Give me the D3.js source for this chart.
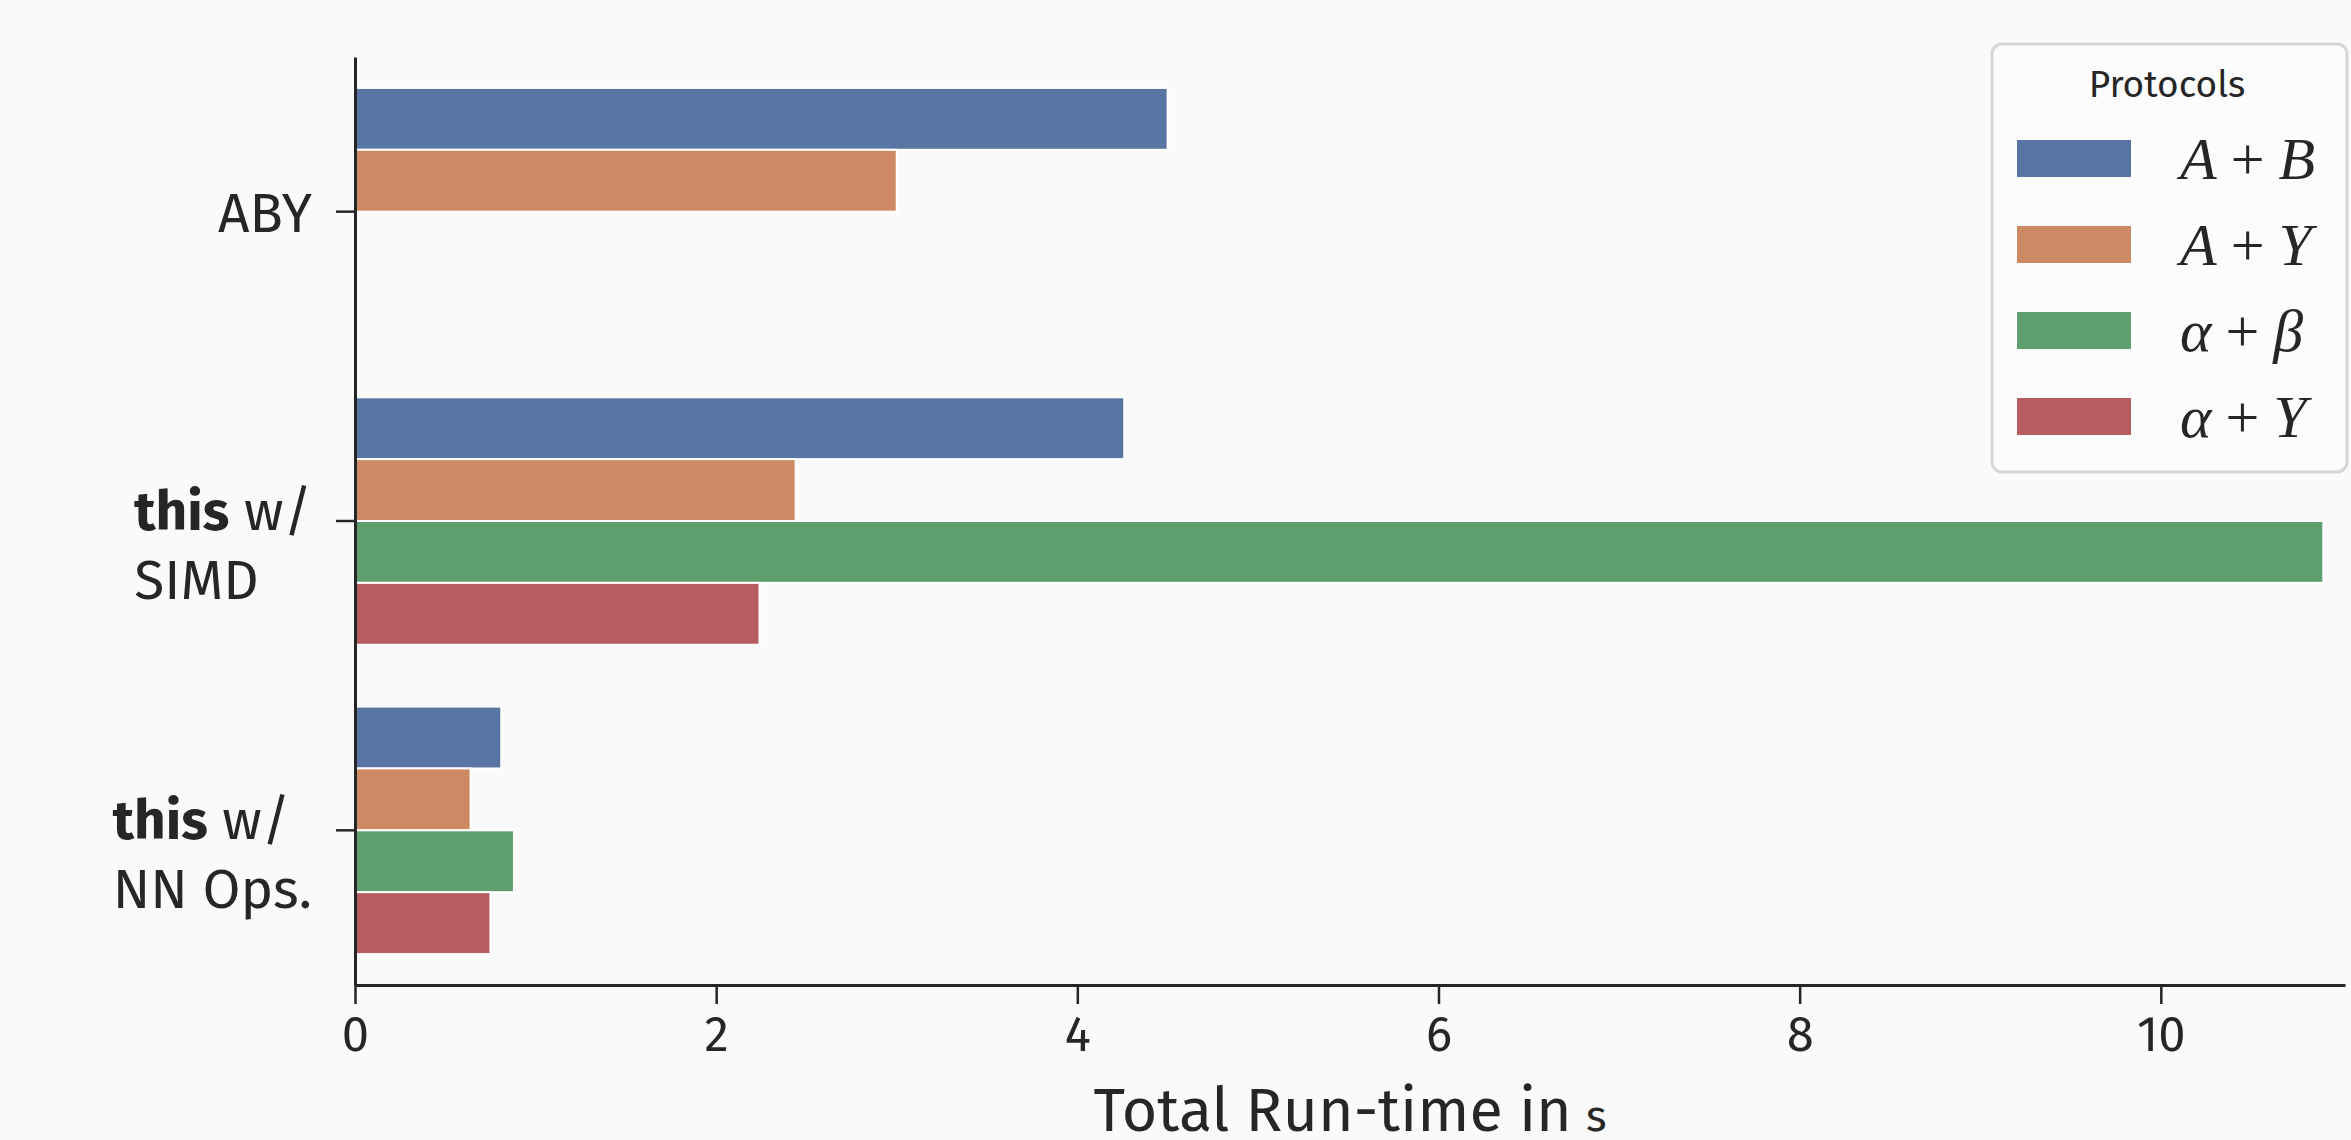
<!DOCTYPE html>
<html>
<head>
<meta charset="utf-8">
<script src="https://cdn.jsdelivr.net/npm/d3@7"></script>
<style>
  html, body { margin: 0; padding: 0; background: #fafafa; }
  svg { display: block; }
  text { fill: #262626; font-family: "Fira Sans", "Open Sans", "Noto Sans", sans-serif; }
</style>
</head>
<body>
<div id="chart"></div>
<script>
/* =========================
   Data
========================= */
const categories = ["ABY", "this w/ SIMD", "this w/ NN Ops."];
const categoryLines = [["ABY"], ["this w/", "SIMD"], ["this w/", "NN Ops."]];

const protocols = ["A+B", "A+Y", "α+β", "α+Y"];
// run-time in s, per category (null = not measured)
const timeAB = [4.50, 4.26, 0.81];
const timeAY = [3.00, 2.44, 0.64];
const timeAlphaBeta = [null, 10.90, 0.88];
const timeAlphaY = [null, 2.24, 0.75];

const xTicks = [0, 2, 4, 6, 8, 10];
const xMax = 11.02;

// legend math labels: [left, op, right]
const legendMath = [["A", "+", "B"], ["A", "+", "Y"], ["α", "+", "β"], ["α", "+", "Y"]];

const colors = ["#5975a4", "#cc8963", "#5f9e6e", "#b55d60"];

/* =========================
   Layout
========================= */
const W = 2351, H = 1140;
const margin = { top: 57, right: 6, bottom: 155, left: 355 };

const svg = d3.select("#chart").append("svg")
    .attr("width", W)
    .attr("height", H);

svg.append("rect").attr("width", W).attr("height", H).attr("fill", "#fafafa");

const xScale = d3.scaleLinear()
    .domain([0, xMax])
    .range([margin.left, W - margin.right]);

const yScale = d3.scaleBand()
    .domain(categories)
    .range([margin.top, H - margin.bottom])
    .paddingInner(0.2)
    .paddingOuter(0.1);

const inner = d3.scaleBand()
    .domain(protocols)
    .range([0, yScale.bandwidth()]);

// table built from the arrays
const seriesValues = [timeAB, timeAY, timeAlphaBeta, timeAlphaY];
const rows = [];
categories.forEach((c, ci) => {
    protocols.forEach((p, pi) => {
        const v = seriesValues[pi][ci];
        if (v != null) rows.push({ cat: c, proto: p, value: v, color: colors[pi] });
    });
});

/* =========================
   Bars
========================= */
svg.append("g").selectAll("rect")
    .data(rows)
    .join("rect")
    .attr("x", xScale(0))
    .attr("y", d => yScale(d.cat) + inner(d.proto))
    .attr("width", d => xScale(d.value) - xScale(0))
    .attr("height", inner.bandwidth())
    .attr("fill", d => d.color)
    .attr("stroke", "#ffffff")
    .attr("stroke-width", 2);

/* =========================
   Axes
========================= */
const axisColor = "#262626";

const xAxisG = svg.append("g")
    .attr("transform", `translate(0,${H - margin.bottom})`)
    .call(d3.axisBottom(xScale).tickValues(xTicks).tickSize(19).tickPadding(0).tickSizeOuter(0));

xAxisG.select(".domain").attr("stroke", axisColor).attr("stroke-width", 3);
xAxisG.selectAll(".tick line").attr("stroke", axisColor).attr("stroke-width", 2.5);
xAxisG.selectAll(".tick text")
    .attr("dy", null)
    .attr("y", 66)
    .attr("font-size", 49)
    .attr("font-family", "'Fira Sans', 'Open Sans', sans-serif")
    .attr("fill", axisColor);

const yAxisG = svg.append("g")
    .attr("transform", `translate(${margin.left},0)`)
    .call(d3.axisLeft(yScale).tickSize(19).tickFormat("").tickSizeOuter(0));

yAxisG.select(".domain").attr("stroke", axisColor).attr("stroke-width", 3);
yAxisG.selectAll(".tick line").attr("stroke", axisColor).attr("stroke-width", 2.5);

// category labels (multi-line, left aligned within a right-aligned block)
const labelRight = 312;
const labelSize = 55;
const lineOffsets = { 1: [20], 2: [9, 78] };

categories.forEach((c, ci) => {
    const lines = categoryLines[ci];
    const cy = yScale(c) + yScale.bandwidth() / 2;
    const g = svg.append("g");
    const texts = lines.map((ln, li) => {
        const t = g.append("text")
            .attr("y", cy + lineOffsets[lines.length][li])
            .attr("font-size", labelSize);
        if (ln.startsWith("this ")) {
            t.append("tspan").attr("font-weight", "bold").text("this");
            t.append("tspan").text(ln.slice(4));
        } else {
            t.text(ln);
        }
        return t;
    });
    const maxW = d3.max(texts, t => t.node().getComputedTextLength());
    texts.forEach(t => t.attr("x", labelRight - maxW));
});

// axis title
const title = svg.append("text")
    .attr("x", (margin.left + W - margin.right) / 2)
    .attr("y", 1131)
    .attr("text-anchor", "middle")
    .attr("font-size", 61);
title.append("tspan").text("Total Run-time in");
title.append("tspan").attr("dx", 14).attr("font-size", 44).text("s");

/* =========================
   Legend
========================= */
const legend = svg.append("g");
legend.append("rect")
    .attr("x", 1992).attr("y", 44)
    .attr("width", 355).attr("height", 428)
    .attr("rx", 10).attr("ry", 10)
    .attr("fill", "#fcfcfc")
    .attr("stroke", "#d6d6d6")
    .attr("stroke-width", 3);

legend.append("text")
    .attr("x", 2167).attr("y", 97)
    .attr("text-anchor", "middle")
    .attr("font-size", 37)
    .text("Protocols");

protocols.forEach((p, i) => {
    const y0 = 140 + i * 86;
    legend.append("rect")
        .attr("x", 2017).attr("y", y0)
        .attr("width", 114).attr("height", 37)
        .attr("fill", colors[i]);
    const t = legend.append("text")
        .attr("x", 2180).attr("y", y0 + 39)
        .attr("font-size", 60)
        .style("font-family", "'Liberation Serif', 'DejaVu Serif', serif");
    const m = legendMath[i];
    t.append("tspan").attr("font-style", "italic").text(m[0]);
    t.append("tspan").attr("dx", 14).attr("font-weight", "300").text(m[1]);
    t.append("tspan").attr("dx", 14).attr("font-style", "italic").text(m[2]);
});
</script>
</body>
</html>
